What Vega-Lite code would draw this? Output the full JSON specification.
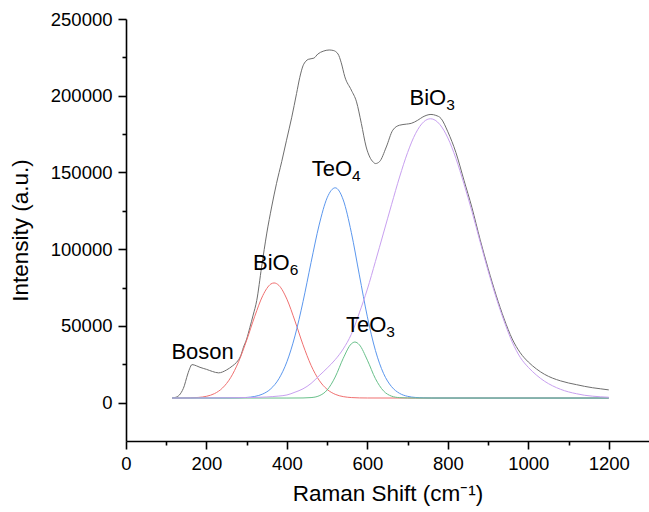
{
  "$schema": "https://vega.github.io/schema/vega-lite/v6.json",
  "width": 523,
  "height": 422,
  "autosize": {"type": "none"},
  "padding": {"left": 126, "top": 19, "right": 0, "bottom": 71},
  "background": "white",
  "config": {
    "view": {"stroke": null},
    "font": "Liberation Sans",
    "axis": {
      "grid": false,
      "domainColor": "black",
      "domainWidth": 1.6,
      "tickColor": "black",
      "tickWidth": 1.6,
      "labelColor": "black",
      "labelFont": "Liberation Sans",
      "labelFontSize": 18.5,
      "labelFlush": false,
      "labelOverlap": false,
      "labelBound": false,
      "titleFont": "Liberation Sans",
      "titleFontSize": 22.5,
      "titleFontWeight": "normal",
      "titleColor": "black"
    }
  },
  "datasets": {
    "curves": [
      {"series": "total", "x": 115, "y": 3000}, {"series": "total", "x": 125, "y": 3600}, {"series": "total", "x": 135, "y": 5700}, {"series": "total", "x": 145, "y": 11000}, {"series": "total", "x": 151, "y": 16500}, {"series": "total", "x": 158, "y": 22000}, {"series": "total", "x": 164, "y": 24800}, {"series": "total", "x": 175, "y": 24000}, {"series": "total", "x": 184, "y": 23000}, {"series": "total", "x": 200, "y": 21700}, {"series": "total", "x": 215, "y": 20300}, {"series": "total", "x": 230, "y": 19400}, {"series": "total", "x": 250, "y": 21300}, {"series": "total", "x": 265, "y": 24000}, {"series": "total", "x": 275, "y": 26300}, {"series": "total", "x": 285, "y": 30500}, {"series": "total", "x": 292, "y": 36100}, {"series": "total", "x": 300, "y": 41500}, {"series": "total", "x": 308, "y": 49100}, {"series": "total", "x": 316, "y": 57000}, {"series": "total", "x": 325, "y": 66600}, {"series": "total", "x": 337, "y": 88300}, {"series": "total", "x": 350, "y": 110500}, {"series": "total", "x": 362, "y": 127500}, {"series": "total", "x": 374, "y": 142700}, {"series": "total", "x": 387, "y": 157000}, {"series": "total", "x": 399, "y": 171000}, {"series": "total", "x": 412, "y": 186000}, {"series": "total", "x": 424, "y": 201500}, {"series": "total", "x": 432, "y": 212000}, {"series": "total", "x": 440, "y": 219500}, {"series": "total", "x": 447, "y": 222500}, {"series": "total", "x": 453, "y": 223700}, {"series": "total", "x": 467, "y": 224500}, {"series": "total", "x": 477, "y": 227200}, {"series": "total", "x": 490, "y": 229000}, {"series": "total", "x": 505, "y": 229800}, {"series": "total", "x": 515, "y": 229500}, {"series": "total", "x": 527, "y": 227200}, {"series": "total", "x": 535, "y": 221500}, {"series": "total", "x": 544, "y": 212300}, {"series": "total", "x": 560, "y": 203700}, {"series": "total", "x": 573, "y": 196000}, {"series": "total", "x": 585, "y": 181900}, {"series": "total", "x": 597, "y": 166600}, {"series": "total", "x": 606, "y": 160000}, {"series": "total", "x": 614, "y": 156900}, {"series": "total", "x": 620, "y": 155800}, {"series": "total", "x": 630, "y": 157000}, {"series": "total", "x": 647, "y": 166600}, {"series": "total", "x": 663, "y": 177500}, {"series": "total", "x": 680, "y": 180800}, {"series": "total", "x": 697, "y": 181500}, {"series": "total", "x": 709, "y": 182000}, {"series": "total", "x": 725, "y": 184000}, {"series": "total", "x": 738, "y": 186200}, {"series": "total", "x": 758, "y": 187800}, {"series": "total", "x": 770, "y": 187200}, {"series": "total", "x": 783, "y": 185200}, {"series": "total", "x": 800, "y": 176500}, {"series": "total", "x": 820, "y": 163000}, {"series": "total", "x": 840, "y": 145000}, {"series": "total", "x": 860, "y": 127000}, {"series": "total", "x": 880, "y": 106500}, {"series": "total", "x": 900, "y": 87500}, {"series": "total", "x": 920, "y": 70000}, {"series": "total", "x": 940, "y": 54500}, {"series": "total", "x": 960, "y": 41500}, {"series": "total", "x": 980, "y": 32500}, {"series": "total", "x": 1000, "y": 26500}, {"series": "total", "x": 1020, "y": 22000}, {"series": "total", "x": 1040, "y": 18500}, {"series": "total", "x": 1060, "y": 16000}, {"series": "total", "x": 1080, "y": 14200}, {"series": "total", "x": 1100, "y": 12800}, {"series": "total", "x": 1120, "y": 11700}, {"series": "total", "x": 1140, "y": 10600}, {"series": "total", "x": 1160, "y": 9700}, {"series": "total", "x": 1180, "y": 9000}, {"series": "total", "x": 1200, "y": 8300},

      {"series": "BiO6", "x": 115, "y": 3000}, {"series": "BiO6", "x": 140, "y": 3020}, {"series": "BiO6", "x": 160, "y": 3120}, {"series": "BiO6", "x": 180, "y": 3390}, {"series": "BiO6", "x": 200, "y": 4130}, {"series": "BiO6", "x": 220, "y": 5890}, {"series": "BiO6", "x": 240, "y": 9570}, {"series": "BiO6", "x": 260, "y": 16250}, {"series": "BiO6", "x": 280, "y": 26720}, {"series": "BiO6", "x": 300, "y": 40720}, {"series": "BiO6", "x": 320, "y": 56250}, {"series": "BiO6", "x": 340, "y": 69750}, {"series": "BiO6", "x": 360, "y": 77290}, {"series": "BiO6", "x": 368, "y": 78000}, {"series": "BiO6", "x": 380, "y": 76400}, {"series": "BiO6", "x": 400, "y": 67400}, {"series": "BiO6", "x": 420, "y": 53200}, {"series": "BiO6", "x": 440, "y": 37700}, {"series": "BiO6", "x": 460, "y": 24300}, {"series": "BiO6", "x": 480, "y": 14620}, {"series": "BiO6", "x": 500, "y": 8630}, {"series": "BiO6", "x": 520, "y": 5420}, {"series": "BiO6", "x": 540, "y": 3920}, {"series": "BiO6", "x": 560, "y": 3310}, {"series": "BiO6", "x": 580, "y": 3090}, {"series": "BiO6", "x": 600, "y": 3030}, {"series": "BiO6", "x": 700, "y": 3000}, {"series": "BiO6", "x": 1200, "y": 3000},

      {"series": "TeO4", "x": 115, "y": 3000}, {"series": "TeO4", "x": 250, "y": 3050}, {"series": "TeO4", "x": 280, "y": 3150}, {"series": "TeO4", "x": 300, "y": 3380}, {"series": "TeO4", "x": 320, "y": 4040}, {"series": "TeO4", "x": 340, "y": 5630}, {"series": "TeO4", "x": 360, "y": 9040}, {"series": "TeO4", "x": 380, "y": 15550}, {"series": "TeO4", "x": 400, "y": 26660}, {"series": "TeO4", "x": 420, "y": 43470}, {"series": "TeO4", "x": 440, "y": 65770}, {"series": "TeO4", "x": 460, "y": 91330}, {"series": "TeO4", "x": 480, "y": 115700}, {"series": "TeO4", "x": 500, "y": 133500}, {"series": "TeO4", "x": 520, "y": 140000}, {"series": "TeO4", "x": 540, "y": 132100}, {"series": "TeO4", "x": 560, "y": 111000}, {"series": "TeO4", "x": 580, "y": 83240}, {"series": "TeO4", "x": 600, "y": 55900}, {"series": "TeO4", "x": 620, "y": 34000}, {"series": "TeO4", "x": 640, "y": 19100}, {"series": "TeO4", "x": 660, "y": 10440}, {"series": "TeO4", "x": 680, "y": 6050}, {"series": "TeO4", "x": 700, "y": 4110}, {"series": "TeO4", "x": 720, "y": 3360}, {"series": "TeO4", "x": 740, "y": 3100}, {"series": "TeO4", "x": 760, "y": 3020}, {"series": "TeO4", "x": 900, "y": 3000}, {"series": "TeO4", "x": 1200, "y": 3000},

      {"series": "TeO3", "x": 115, "y": 3000}, {"series": "TeO3", "x": 400, "y": 3000}, {"series": "TeO3", "x": 440, "y": 3050}, {"series": "TeO3", "x": 460, "y": 3290}, {"series": "TeO3", "x": 480, "y": 4440}, {"series": "TeO3", "x": 500, "y": 8230}, {"series": "TeO3", "x": 520, "y": 16700}, {"series": "TeO3", "x": 540, "y": 28900}, {"series": "TeO3", "x": 560, "y": 38300}, {"series": "TeO3", "x": 569, "y": 39500}, {"series": "TeO3", "x": 580, "y": 37700}, {"series": "TeO3", "x": 600, "y": 27660}, {"series": "TeO3", "x": 620, "y": 15620}, {"series": "TeO3", "x": 640, "y": 7660}, {"series": "TeO3", "x": 660, "y": 4240}, {"series": "TeO3", "x": 680, "y": 3240}, {"series": "TeO3", "x": 700, "y": 3040}, {"series": "TeO3", "x": 720, "y": 3000}, {"series": "TeO3", "x": 1200, "y": 3000},

      {"series": "BiO3", "x": 115, "y": 3000}, {"series": "BiO3", "x": 200, "y": 3050}, {"series": "BiO3", "x": 250, "y": 3150}, {"series": "BiO3", "x": 300, "y": 3300}, {"series": "BiO3", "x": 350, "y": 3700}, {"series": "BiO3", "x": 380, "y": 4300}, {"series": "BiO3", "x": 400, "y": 5000}, {"series": "BiO3", "x": 420, "y": 6800}, {"series": "BiO3", "x": 440, "y": 9000}, {"series": "BiO3", "x": 460, "y": 12500}, {"series": "BiO3", "x": 480, "y": 17500}, {"series": "BiO3", "x": 500, "y": 22500}, {"series": "BiO3", "x": 520, "y": 28000}, {"series": "BiO3", "x": 540, "y": 35000}, {"series": "BiO3", "x": 560, "y": 44500}, {"series": "BiO3", "x": 580, "y": 58500}, {"series": "BiO3", "x": 600, "y": 74000}, {"series": "BiO3", "x": 620, "y": 92000}, {"series": "BiO3", "x": 640, "y": 110500}, {"series": "BiO3", "x": 660, "y": 129000}, {"series": "BiO3", "x": 680, "y": 147000}, {"series": "BiO3", "x": 700, "y": 163000}, {"series": "BiO3", "x": 720, "y": 175500}, {"series": "BiO3", "x": 740, "y": 183000}, {"series": "BiO3", "x": 757, "y": 185000}, {"series": "BiO3", "x": 780, "y": 181300}, {"series": "BiO3", "x": 800, "y": 172500}, {"series": "BiO3", "x": 820, "y": 159200}, {"series": "BiO3", "x": 840, "y": 142600}, {"series": "BiO3", "x": 860, "y": 124500}, {"series": "BiO3", "x": 880, "y": 105000}, {"series": "BiO3", "x": 900, "y": 86000}, {"series": "BiO3", "x": 920, "y": 68500}, {"series": "BiO3", "x": 940, "y": 53000}, {"series": "BiO3", "x": 960, "y": 39500}, {"series": "BiO3", "x": 980, "y": 29500}, {"series": "BiO3", "x": 1000, "y": 23000}, {"series": "BiO3", "x": 1020, "y": 18000}, {"series": "BiO3", "x": 1040, "y": 14000}, {"series": "BiO3", "x": 1060, "y": 11000}, {"series": "BiO3", "x": 1080, "y": 8700}, {"series": "BiO3", "x": 1100, "y": 7000}, {"series": "BiO3", "x": 1120, "y": 5800}, {"series": "BiO3", "x": 1140, "y": 4800}, {"series": "BiO3", "x": 1160, "y": 4200}, {"series": "BiO3", "x": 1180, "y": 3800}, {"series": "BiO3", "x": 1200, "y": 3500}
    ],
    "labels": [
      {"main": "Boson", "sub": "", "x": 268, "y": 28700},
      {"main": "BiO", "sub": "6", "x": 407, "y": 86200},
      {"main": "TeO", "sub": "4", "x": 562, "y": 147500},
      {"main": "TeO", "sub": "3", "x": 647, "y": 46300},
      {"main": "BiO", "sub": "3", "x": 796, "y": 193900}
    ]
  },
  "encoding": {
    "x": {
      "field": "x",
      "type": "quantitative",
      "scale": {"domain": [0, 1300], "nice": false, "zero": false},
      "axis": {
        "title": "Raman Shift (cm⁻¹)",
        "values": [0, 100, 200, 300, 400, 500, 600, 700, 800, 900, 1000, 1100, 1200],
        "format": "d",
        "labelExpr": "datum.value % 200 === 0 ? datum.label : ''",
        "tickSize": {"condition": {"test": "datum.value % 200 === 0", "value": 8}, "value": 4},
        "labelPadding": 5,
        "titlePadding": 10
      }
    },
    "y": {
      "field": "y",
      "type": "quantitative",
      "scale": {"domain": [-25000, 250000], "nice": false, "zero": false},
      "axis": {
        "title": "Intensity (a.u.)",
        "values": [0, 25000, 50000, 75000, 100000, 125000, 150000, 175000, 200000, 225000, 250000],
        "format": "d",
        "labelExpr": "datum.value % 50000 === 0 ? datum.label : ''",
        "tickSize": {"condition": {"test": "datum.value % 50000 === 0", "value": 8}, "value": 4},
        "labelPadding": 6,
        "titlePadding": 18
      }
    }
  },
  "layer": [
    {
      "data": {"name": "curves"},
      "mark": {"type": "line", "strokeWidth": 1, "interpolate": "monotone"},
      "encoding": {
        "color": {
          "field": "series",
          "type": "nominal",
          "scale": {"domain": ["total", "BiO6", "TeO4", "TeO3", "BiO3"], "range": ["#6e6e6e", "#f07070", "#5b97ee", "#68c08a", "#c8a0f0"]},
          "legend": null
        }
      }
    },
    {
      "data": {"name": "labels"},
      "mark": {"type": "text", "align": "right", "baseline": "alphabetic", "fontSize": 22, "font": "Liberation Sans", "color": "black"},
      "encoding": {"text": {"field": "main"}}
    },
    {
      "data": {"name": "labels"},
      "mark": {"type": "text", "align": "left", "baseline": "alphabetic", "fontSize": 15.5, "dy": 5, "font": "Liberation Sans", "color": "black"},
      "encoding": {"text": {"field": "sub"}}
    }
  ]
}
